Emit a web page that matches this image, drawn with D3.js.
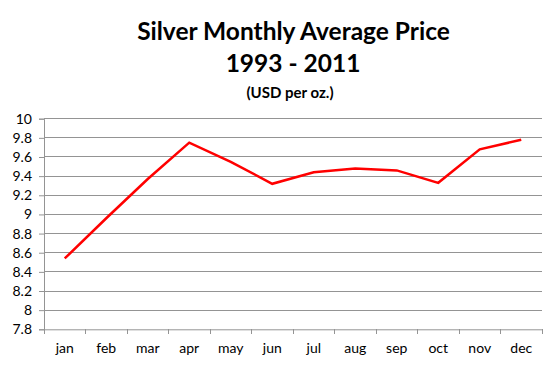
<!DOCTYPE html>
<html><head><meta charset="utf-8">
<script src="https://cdn.jsdelivr.net/npm/d3@7"></script>
<style>body{margin:0;background:#fff}svg{display:block}</style>
</head><body>
<script>
const months = ["jan","feb","mar","apr","may","jun","jul","aug","sep","oct","nov","dec"];
const prices = [8.54,8.96,9.37,9.75,9.55,9.32,9.44,9.48,9.46,9.33,9.68,9.78];
const yTicks = [7.8,8,8.2,8.4,8.6,8.8,9,9.2,9.4,9.6,9.8,10];
const titleLines = ["Silver Monthly Average Price","1993 - 2011"];
const subtitle = "(USD per oz.)";

const W=560,H=369;
const svg=d3.select("body").append("svg").attr("width",W).attr("height",H);
const m={l:44,r:18,t:118.7,b:40};
const x=d3.scaleBand().domain(months).range([m.l,W-m.r]);
const y=d3.scaleLinear().domain([7.8,10]).range([329.3,m.t]);
const font="Lato, 'Open Sans', sans-serif";
const gc="#949494";

svg.append("g").selectAll("line").data(yTicks.slice(1)).join("line")
  .attr("x1",m.l).attr("x2",W-m.r).attr("y1",d=>y(d)).attr("y2",d=>y(d))
  .attr("stroke",gc).attr("stroke-width",1).attr("shape-rendering","crispEdges");

const ya=svg.append("g").attr("transform",`translate(${m.l},0)`)
  .call(d3.axisLeft(y).tickValues(yTicks).tickSize(5).tickFormat(d=>d3.format("")(+d.toFixed(1))));
ya.select(".domain").attr("stroke",gc);
ya.selectAll(".tick line").attr("stroke",gc);
ya.selectAll("text").attr("font-family",font).attr("font-size",14).attr("fill","#000").attr("x",-12);

const xa=svg.append("g").attr("transform",`translate(0,${y(7.8)})`)
  .call(d3.axisBottom(x).tickSize(0).tickPadding(14));
xa.select(".domain").attr("stroke",gc);
xa.selectAll("text").attr("font-family",font).attr("font-size",14).attr("fill","#000");
svg.append("g").selectAll("line").data(months.concat(["end"])).join("line")
  .attr("x1",(d,i)=>m.l+i*x.step()).attr("x2",(d,i)=>m.l+i*x.step())
  .attr("y1",y(7.8)).attr("y2",y(7.8)+5).attr("stroke",gc).attr("shape-rendering","crispEdges");

const line=d3.line().x((d,i)=>x(months[i])+x.bandwidth()/2).y(d=>y(d));
svg.append("path").datum(prices).attr("d",line).attr("fill","none")
  .attr("stroke","#ff0000").attr("stroke-width",2.5).attr("stroke-linejoin","miter");

svg.append("text").attr("x",293.5).attr("y",40).attr("text-anchor","middle")
  .attr("font-family",font).attr("font-weight","bold").attr("font-size",24.5).text(titleLines[0]);
svg.append("text").attr("x",293).attr("y",72).attr("text-anchor","middle")
  .attr("font-family",font).attr("font-weight","bold").attr("font-size",24.5).text(titleLines[1]);
svg.append("text").attr("x",290).attr("y",98).attr("text-anchor","middle")
  .attr("font-family",font).attr("font-weight","bold").attr("font-size",15).text(subtitle);
</script>
</body></html>
